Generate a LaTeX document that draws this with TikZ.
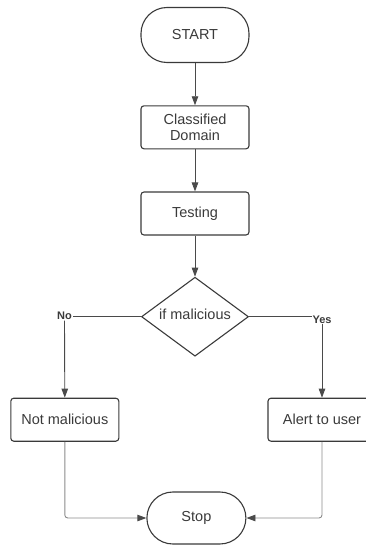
\documentclass[tikz,border=0pt]{standalone}
\usepackage{fontspec}
\setmainfont{Liberation Sans}
\usetikzlibrary{shapes.geometric,arrows.meta}
\definecolor{ink}{HTML}{3A3A3A}
\definecolor{linec}{HTML}{4A4A4A}
\definecolor{lightline}{HTML}{8A8A8A}
\tikzset{
  box/.style={draw=ink, line width=1.1pt, rounded corners=3pt, minimum width=108pt, minimum height=43pt, inner sep=0pt, text=ink, font=\fontsize{14.5}{17}\selectfont, align=center},
  term/.style={draw=ink, line width=1.1pt, rounded corners=26pt, inner sep=0pt, text=ink, font=\fontsize{14.5}{17}\selectfont},
  dec/.style={diamond, draw=ink, line width=1.1pt, inner sep=0pt, minimum width=107pt, minimum height=79pt},
  lbl/.style={inner sep=0.5pt, text=ink, font=\fontsize{11}{13}\selectfont\bfseries},
  txt/.style={inner sep=0pt, text=ink, font=\fontsize{14.5}{17}\selectfont},
  flow/.style={draw=linec, line width=0.9pt, -{Triangle[length=9pt,width=6.5pt]}},
  plain/.style={draw=linec, line width=0.9pt},
  back/.style={draw=lightline, line width=0.9pt, rounded corners=3pt, -{Triangle[length=9pt,width=6.5pt,color=linec]}}
}
\begin{document}
\begin{tikzpicture}[x=1pt,y=-1pt]
\useasboundingbox (0,0) rectangle (366,546);
\node[term, minimum width=108pt, minimum height=55pt] (start) at (195,35) {START};
\node[box] (cd) at (195,127.3) {Classified\\[-1pt]Domain};
\node[box] (test) at (195,213.5) {Testing};
\node[dec] (dia) at (195,316.7) {};
\node[txt] (diatxt) at (195,314.5) {if malicious};
\node[lbl] (no) at (64.5,316.2) {No};
\node[lbl] (yes) at (322,319.5) {Yes};
\node[box] (nm) at (64.8,419.7) {Not malicious};
\node[box] (alert) at (322,419.7) {Alert to user};
\node[term, minimum width=99pt, minimum height=52pt] (stop) at (196.4,518) {Stop};

\draw[flow] (start) -- (cd);
\draw[flow] (cd) -- (test);
\draw[flow] (test) -- (dia);
\draw[plain] (dia.west) -- (dia.west -| no.east);
\draw[plain] (dia.east) -- (dia.east -| yes.west);
\draw[flow] (no.south) -- (nm.north);
\draw[flow] (yes.south) -- (alert.north);
\draw[back] (nm.south) |- (stop.west);
\draw[back] (alert.south) |- (stop.east);
\end{tikzpicture}
\end{document}
